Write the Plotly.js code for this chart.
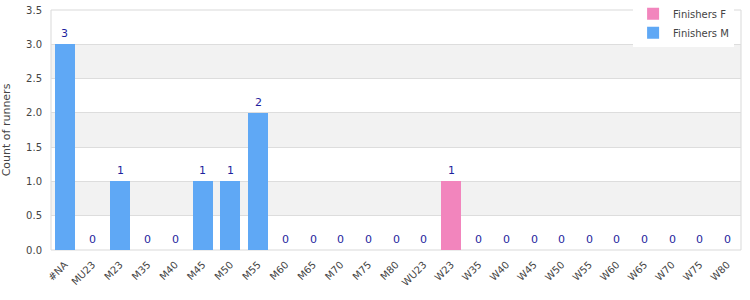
<!DOCTYPE html>
<html>
<head>
<meta charset="utf-8">
<script src="https://cdn.plot.ly/plotly-3.0.1.min.js"></script>
<style>html,body{margin:0;padding:0;background:#fff}#chart{width:750px;height:300px}</style>
</head>
<body>
<div id="chart"></div>
<script>
const categories = ["#NA","MU23","M23","M35","M40","M45","M50","M55","M60","M65","M70","M75","M80","WU23","W23","W35","W40","W45","W50","W55","W60","W65","W70","W75","W80"];
const finishersM = [3,0,1,0,0,1,1,2,0,0,0,0,0,0,0,0,0,0,0,0,0,0,0,0,0];
const finishersF = [0,0,0,0,0,0,0,0,0,0,0,0,0,0,1,0,0,0,0,0,0,0,0,0,0];
const yTicks = [0,0.5,1,1.5,2,2.5,3,3.5];

const totals = categories.map((c,i)=>finishersM[i]+finishersF[i]);

const font = "DejaVu Sans, Verdana, sans-serif";
const traces = [
  {type:'bar', name:'Finishers M', x:categories, y:finishersM, marker:{color:'#5fa8f5', line:{width:0}}, hoverinfo:'none'},
  {type:'bar', name:'Finishers F', x:categories, y:finishersF, marker:{color:'#f285bd', line:{width:0}}, hoverinfo:'none'}
];

const annotations = categories.map((c,i)=>({
  x:c, y:totals[i], xref:'x', yref:'y', text:String(totals[i]), showarrow:false,
  yanchor:'bottom', yshift:2, font:{family:font, size:11, color:'#1f1f9e'}
}));

const shapes = [];
for (let i=0;i<yTicks.length-1;i++){
  if (i%2===1){
    shapes.push({type:'rect', xref:'paper', yref:'y', x0:0, x1:1, y0:yTicks[i], y1:yTicks[i+1],
      fillcolor:'#f2f2f2', line:{width:0}, layer:'below'});
  }
}
shapes.push({type:'rect', xref:'paper', yref:'paper', x0:0, x1:1, y0:0, y1:1, line:{color:'#d9d9d9', width:1}, fillcolor:'rgba(0,0,0,0)', layer:'below'});

const layout = {
  width:750, height:300,
  margin:{l:51, r:9, t:10, b:50, autoexpand:false},
  paper_bgcolor:'#fff', plot_bgcolor:'#fff',
  barmode:'stack', bargap:0.27,
  font:{family:font, size:11, color:'#444'},
  xaxis:{type:'category', range:[-0.5, categories.length-0.5], tickangle:-45, ticklabelstandoff:6,
    tickfont:{family:font, size:10, color:'#444'}, showgrid:false, zeroline:false, showline:false, ticks:'', automargin:false},
  yaxis:{range:[0,3.5], tickvals:yTicks, ticktext:yTicks.map(v=>v.toFixed(1)), gridcolor:'#dddddd', zeroline:false, showline:false,
    ticklabelstandoff:8,
    tickfont:{family:font, size:10, color:'#444'}, title:{text:'Count of runners', standoff:14, font:{family:font, size:11, color:'#444'}}, automargin:false},
  legend:{x:0.99, xanchor:'right', y:1.045, yanchor:'top', bgcolor:'#fff', font:{family:font, size:10, color:'#444'}, traceorder:'reversed', itemwidth:30, tracegroupgap:0},
  shapes:shapes,
  annotations:annotations,
  showlegend:true
};
Plotly.newPlot('chart', traces, layout, {staticPlot:true, displayModeBar:false});
</script>
</body>
</html>
